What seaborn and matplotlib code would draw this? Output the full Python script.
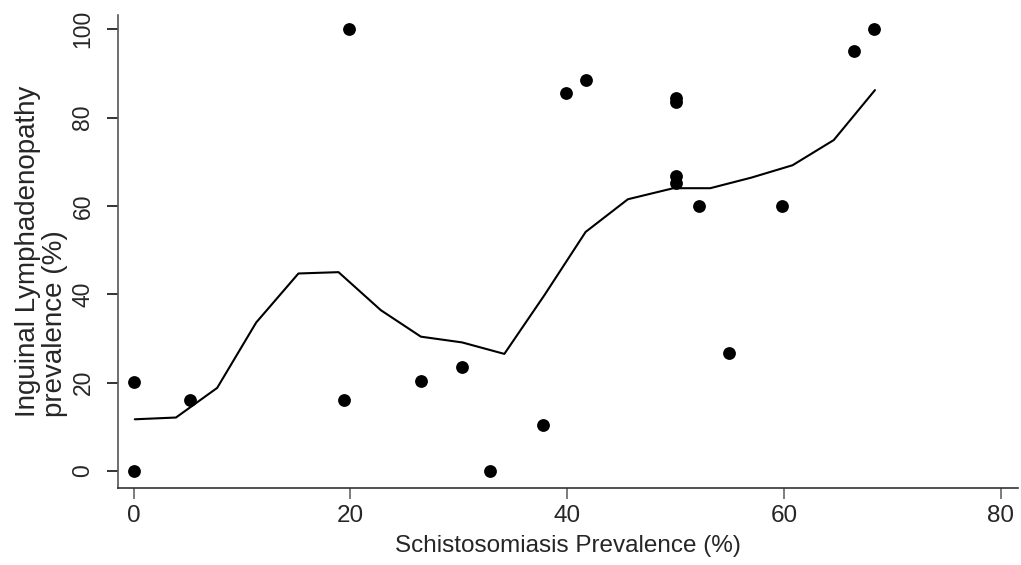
import matplotlib
matplotlib.use("Agg")
import matplotlib.pyplot as plt
import seaborn as sns
import pandas as pd

# Observed prevalence points
schisto_x = [0, 0, 5.2, 19.9, 19.4, 26.5, 30.3, 32.9, 37.8, 39.9, 41.7,
             50, 50, 50, 50, 52.2, 59.8, 54.9, 66.5, 68.3]
lymph_y = [20.2, 0, 16.1, 100, 16.1, 20.4, 23.5, 0, 10.4, 85.6, 88.5,
           84.4, 83.4, 66.8, 65.1, 60.0, 60.0, 26.8, 95.0, 100]

# Smoothed curve
smooth_x = [0.1, 3.9, 7.7, 11.3, 15.2, 18.9, 22.8, 26.5, 30.3, 34.2, 37.9,
            41.7, 45.6, 49.8, 53.2, 57.0, 60.8, 64.6, 68.4]
smooth_y = [11.7, 12.1, 18.8, 33.6, 44.7, 45.0, 36.4, 30.4, 29.1, 26.5, 39.8,
            54.1, 61.5, 64.0, 64.0, 66.4, 69.2, 74.9, 86.2]

xticks = [0, 20, 40, 60, 80]
yticks = [0, 20, 40, 60, 80, 100]

sns.set_style("white")
plt.rcParams['font.family'] = ['Liberation Sans', 'DejaVu Sans']

pts = pd.DataFrame({"x": schisto_x, "y": lymph_y})
curve = pd.DataFrame({"x": smooth_x, "y": smooth_y})

fig = plt.figure(figsize=(10.21, 5.65), dpi=100)
ax = fig.add_axes([118/1021, 1 - 488/565, 900/1021, 473/565])

sns.lineplot(data=curve, x="x", y="y", sort=False, color="black", linewidth=1.5, ax=ax)
sns.scatterplot(data=pts, x="x", y="y", color="black", s=85, edgecolor="black",
                linewidth=0, ax=ax, zorder=3)

ax.set_xlim(-1.45, 81.6)
ax.set_ylim(-3.85, 103.2)
ax.set_xticks(xticks)
ax.set_yticks(yticks)
ax.set_xticklabels([str(t) for t in xticks], fontsize=17.5)
ax.set_yticklabels([str(t) for t in yticks], fontsize=16.5, rotation=90, va="center")

for s in ["top", "right"]:
    ax.spines[s].set_visible(False)
ax.spines["left"].set_color("#555555")
ax.spines["bottom"].set_color("#333333")
ax.spines["left"].set_linewidth(1.2)
ax.spines["bottom"].set_linewidth(1.2)
ax.tick_params(axis="y", direction="out", length=8, width=1.2, color="#111111",
               left=True, pad=9)
ax.tick_params(axis="x", direction="out", length=8, width=1.2, color="#666666",
               bottom=True, pad=4)

ax.set_xlabel("Schistosomiasis Prevalence (%)", fontsize=17.5, labelpad=6)
ax.set_ylabel("Inguinal Lymphadenopathy\nprevalence (%)", fontsize=20,
              multialignment="left", linespacing=1.05)
ax.yaxis.set_label_coords(-0.055, 0.5)

fig.savefig("out.png", dpi=100)
